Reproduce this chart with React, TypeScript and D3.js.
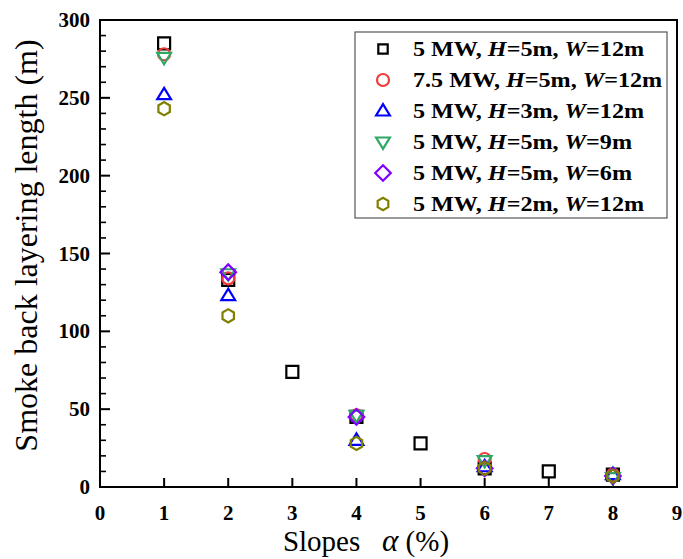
import React, { useEffect, useRef } from "react";
import * as d3 from "d3";

// slopes (%) for each scenario
const xBase = [1, 2, 3, 4, 5, 6, 7, 8];
const xOther = [1, 2, 4, 6, 8];

const sqY = [285, 133, 74, 45, 28, 12, 10, 8]; // 5 MW, H=5m, W=12m
const circY = [278, 134, 46, 18, 8]; // 7.5 MW
const triUpY = [252, 123, 30, 13, 8]; // H=3m
const triDownY = [276, 137, 46, 17, 6]; // W=9m
const diamY = [null, 138, 45, 12, 7]; // W=6m
const hexY = [243, 110, 28, 12, 7]; // H=2m

const xTicks = [0, 1, 2, 3, 4, 5, 6, 7, 8, 9];
const yTicks = [0, 50, 100, 150, 200, 250, 300];
const yMinor = d3.range(0, 301, 10).filter((v) => v % 50 !== 0);

type Series = { name: string; shape: string; color: string; xs: number[]; ys: (number | null)[] };

const series: Series[] = [
  { name: "sq", shape: "square", color: "#000000", xs: xBase, ys: sqY },
  { name: "circ", shape: "circle", color: "#f03c3c", xs: xOther, ys: circY },
  { name: "up", shape: "triUp", color: "#0000ff", xs: xOther, ys: triUpY },
  { name: "down", shape: "triDown", color: "#2ea866", xs: xOther, ys: triDownY },
  { name: "diam", shape: "diamond", color: "#7f00ff", xs: xOther, ys: diamY },
  { name: "hex", shape: "hex", color: "#808000", xs: xOther, ys: hexY },
];

// legend parts: [prefix, H, W]
const legendLabels = [
  ["5 MW, ", "5m, ", "12m"],
  ["7.5 MW, ", "5m, ", "12m"],
  ["5 MW, ", "3m, ", "12m"],
  ["5 MW, ", "5m, ", "9m"],
  ["5 MW, ", "5m, ", "6m"],
  ["5 MW, ", "2m, ", "12m"],
];

function shapePath(shape: string, r: number) {
  switch (shape) {
    case "square":
      return `M${-r},${-r}H${r}V${r}H${-r}Z`;
    case "circle":
      return `M${r},0A${r},${r} 0 1,1 ${-r},0A${r},${r} 0 1,1 ${r},0Z`;
    case "triUp":
      return `M0,${-r * 1.15}L${r * 1.15},${r * 0.75}L${-r * 1.15},${r * 0.75}Z`;
    case "triDown":
      return `M0,${r * 1.15}L${r * 1.15},${-r * 0.75}L${-r * 1.15},${-r * 0.75}Z`;
    case "diamond":
      return `M0,${-r * 1.3}L${r * 1.3},0L0,${r * 1.3}L${-r * 1.3},0Z`;
    default: {
      const pts = d3.range(6).map((i) => {
        const a = (Math.PI / 3) * i + Math.PI / 6;
        return [r * 1.1 * Math.cos(a), r * 1.1 * Math.sin(a)];
      });
      return "M" + pts.map((p) => p.join(",")).join("L") + "Z";
    }
  }
}

const App = () => {
  const ref = useRef<SVGSVGElement>(null);

  useEffect(() => {
    const svg = d3.select(ref.current);
    svg.selectAll("*").remove();
    const width = 683;
    const height = 559;
    const margin = { top: 20, right: 6, bottom: 72, left: 100 };
    const font = "'Liberation Serif', 'Times New Roman', serif";

    const x = d3.scaleLinear().domain([0, 9]).range([margin.left, width - margin.right]);
    const y = d3.scaleLinear().domain([0, 300]).range([height - margin.bottom, margin.top]);

    svg.append("rect").attr("width", width).attr("height", height).attr("fill", "#fff");

    // frame
    svg
      .append("rect")
      .attr("x", x(0))
      .attr("y", y(300))
      .attr("width", x(9) - x(0))
      .attr("height", y(0) - y(300))
      .attr("fill", "none")
      .attr("stroke", "#000")
      .attr("stroke-width", 2);

    // x ticks (inward)
    const gx = svg.append("g");
    gx.selectAll("line")
      .data(xTicks)
      .join("line")
      .attr("x1", (d) => x(d))
      .attr("x2", (d) => x(d))
      .attr("y1", y(0))
      .attr("y2", y(0) - 9)
      .attr("stroke", "#000")
      .attr("stroke-width", 2);
    gx.selectAll("text")
      .data(xTicks)
      .join("text")
      .attr("x", (d) => x(d))
      .attr("y", y(0) + 33)
      .attr("text-anchor", "middle")
      .style("font-family", font)
      .style("font-weight", "bold")
      .style("font-size", "21px")
      .text((d) => d);

    const gy = svg.append("g");
    gy.selectAll("line.major")
      .data(yTicks)
      .join("line")
      .attr("class", "major")
      .attr("x1", x(0))
      .attr("x2", x(0) + 10)
      .attr("y1", (d) => y(d))
      .attr("y2", (d) => y(d))
      .attr("stroke", "#000")
      .attr("stroke-width", 2);
    gy.selectAll("line.minor")
      .data(yMinor)
      .join("line")
      .attr("class", "minor")
      .attr("x1", x(0))
      .attr("x2", x(0) + 6)
      .attr("y1", (d) => y(d))
      .attr("y2", (d) => y(d))
      .attr("stroke", "#000")
      .attr("stroke-width", 1.6);
    gy.selectAll("text")
      .data(yTicks)
      .join("text")
      .attr("x", x(0) - 10)
      .attr("y", (d) => y(d) + 7)
      .attr("text-anchor", "end")
      .style("font-family", font)
      .style("font-weight", "bold")
      .style("font-size", "21px")
      .text((d) => d);

    // axis titles
    svg
      .append("text")
      .attr("transform", `translate(37, ${(y(0) + y(300)) / 2 - 8}) rotate(-90)`)
      .attr("text-anchor", "middle")
      .style("font-family", font)
      .style("font-size", "32px")
      .text("Smoke back layering length (m)");

    const xt = svg
      .append("text")
      .attr("x", 366)
      .attr("y", height - 8)
      .attr("text-anchor", "middle")
      .style("font-family", font)
      .style("font-size", "29px");
    xt.append("tspan").text("Slopes\u00a0\u00a0 ");
    xt.append("tspan").style("font-style", "italic").style("font-size", "31px").text("\u03b1");
    xt.append("tspan").text(" (%)");

    // markers
    series.forEach((s) => {
      const pts = s.xs.map((xv, i) => ({ x: xv, y: s.ys[i] })).filter((p) => p.y != null);
      svg
        .append("g")
        .selectAll("path")
        .data(pts)
        .join("path")
        .attr("transform", (d) => `translate(${x(d.x)},${y(d.y as number)})`)
        .attr("d", shapePath(s.shape, 6))
        .attr("fill", "none")
        .attr("stroke", s.color)
        .attr("stroke-width", 2.2);
    });

    // legend
    const lg = svg.append("g");
    lg.append("rect")
      .attr("x", 355)
      .attr("y", 32)
      .attr("width", 312)
      .attr("height", 186)
      .attr("fill", "#fff")
      .attr("stroke", "#555")
      .attr("stroke-width", 1.2);
    series.forEach((s, i) => {
      const cy = 49 + i * 31;
      lg.append("path")
        .attr("transform", `translate(383,${cy})`)
        .attr("d", shapePath(s.shape, s.shape === "square" ? 4.7 : s.shape === "hex" ? 5.6 : 6))
        .attr("fill", "none")
        .attr("stroke", s.color)
        .attr("stroke-width", 2.2);
      const t = lg
        .append("text")
        .attr("transform", `translate(413, ${cy + 7}) scale(1.15, 1)`)
        .style("font-family", font)
        .style("font-weight", "bold")
        .style("font-size", "21px");
      const [a, h, w] = legendLabels[i];
      t.append("tspan").text(a);
      t.append("tspan").style("font-style", "italic").text("H");
      t.append("tspan").text("=" + h);
      t.append("tspan").style("font-style", "italic").text("W");
      t.append("tspan").text("=" + w);
    });
  }, []);

  return <svg ref={ref} width={683} height={559} style={{ position: "absolute", left: 0, top: 0 }} />;
};

export default App;
